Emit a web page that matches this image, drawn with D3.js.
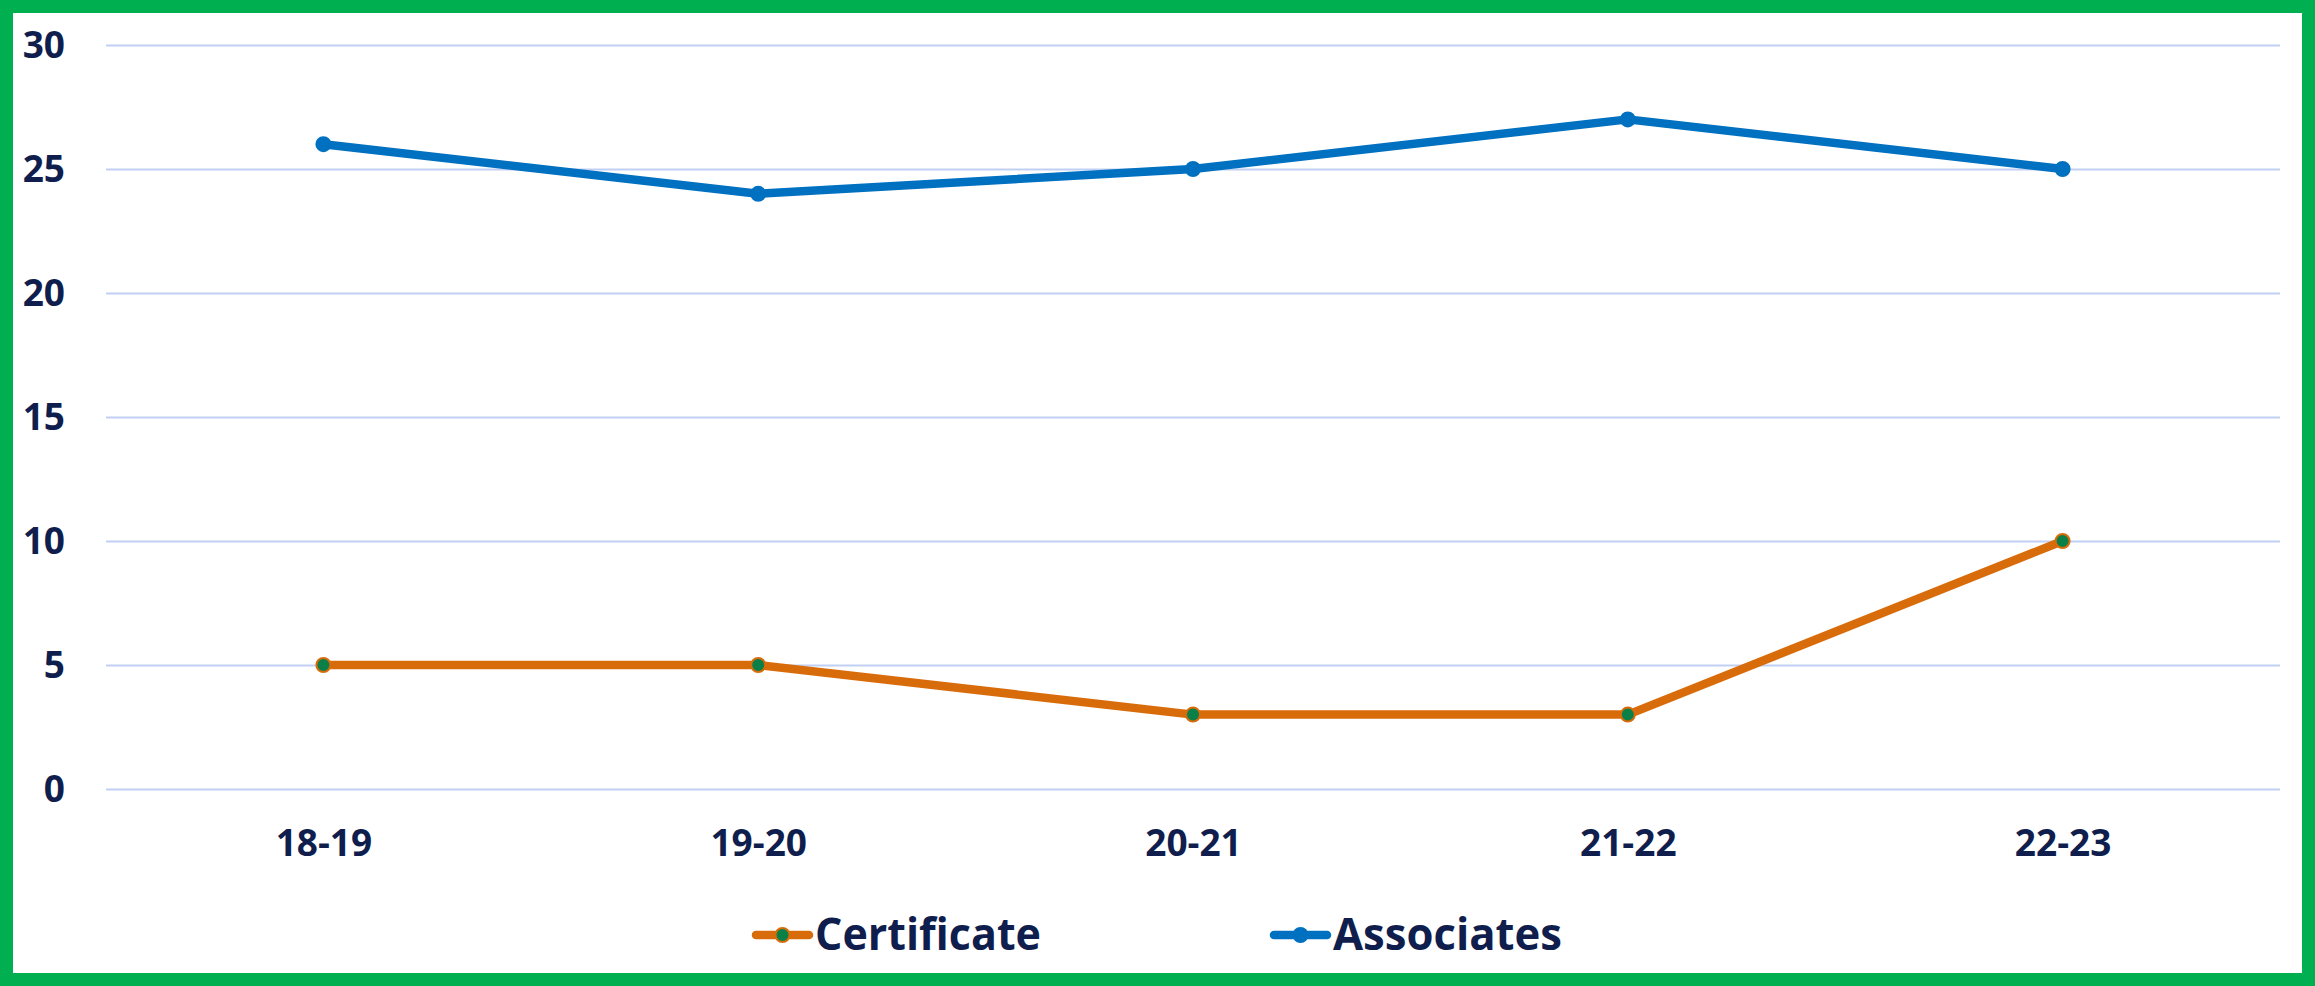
<!DOCTYPE html>
<html><head><meta charset="utf-8">
<script src="https://cdn.jsdelivr.net/npm/d3@7"></script>
<style>html,body{margin:0;padding:0;background:#fff;}svg{display:block;}</style>
</head><body>
<script>
const categories = ["18-19","19-20","20-21","21-22","22-23"];
const certificate = [5,5,3,3,10];
const associates = [26,24,25,27,25];
const yTicks = [0,5,10,15,20,25,30];
const seriesNames = ["Certificate","Associates"];

(function(){
const W = 2315, H = 986;
const svg = d3.select("body").append("svg").attr("width",W).attr("height",H);
svg.append("rect").attr("x",6.5).attr("y",6.5).attr("width",W-13).attr("height",H-13)
  .attr("fill","#fff").attr("stroke","#00b050").attr("stroke-width",13);

const pL = 106, pR = 2280, pT = 45, pB = 789;
const x = d3.scalePoint().domain(categories).range([pL,pR]).padding(0.5);
const y = d3.scaleLinear().domain([0,30]).range([pB,pT]);
const font = "'Open Sans', sans-serif";
const textCol = "#0f1e4d";

const yAxis = svg.append("g").attr("transform",`translate(${pL},0)`)
  .call(d3.axisLeft(y).tickValues(yTicks).tickSize(-(pR-pL)).tickPadding(41));
yAxis.select(".domain").remove();
yAxis.selectAll(".tick line").attr("stroke","#bfd0f4").attr("stroke-width",2);
yAxis.selectAll(".tick text").attr("fill",textCol).attr("font-family",font)
  .attr("font-weight",700).attr("font-size",37).attr("dy","0.35em");

const xAxis = svg.append("g").attr("transform",`translate(0,${pB})`)
  .call(d3.axisBottom(x).tickSize(0).tickPadding(0));
xAxis.select(".domain").remove();
xAxis.selectAll(".tick text").attr("fill",textCol).attr("font-family",font)
  .attr("font-weight",700).attr("font-size",37).attr("dy",null).attr("y",67);

const series = [
  {name:seriesNames[0], values:certificate, color:"#d96c0a", fill:"#0a7f47"},
  {name:seriesNames[1], values:associates, color:"#0070c0", fill:"#0070c0"}
];
const line = d3.line().x((d,i)=>x(categories[i])).y(d=>y(d));
series.forEach(s=>{
  svg.append("path").datum(s.values).attr("d",line).attr("fill","none")
    .attr("stroke",s.color).attr("stroke-width",8.5).attr("stroke-linejoin","round");
  svg.append("g").selectAll("circle").data(s.values).join("circle")
    .attr("cx",(d,i)=>x(categories[i])).attr("cy",d=>y(d)).attr("r",7)
    .attr("fill",s.fill).attr("stroke",s.color).attr("stroke-width",2);
});

const legX = [756, 1274];
const ly = 935;
series.forEach((s,i)=>{
  const g = svg.append("g").attr("transform",`translate(${legX[i]},${ly})`);
  g.append("line").attr("x1",0).attr("x2",53).attr("y1",0).attr("y2",0)
    .attr("stroke",s.color).attr("stroke-width",8.5).attr("stroke-linecap","round");
  g.append("circle").attr("cx",26.5).attr("cy",0).attr("r",7)
    .attr("fill",s.fill).attr("stroke",s.color).attr("stroke-width",2);
  g.append("text").attr("x",59).attr("y",15).attr("fill",textCol)
    .attr("font-family",font).attr("font-weight",700).attr("font-size",45)
    .attr("textLength", i===0 ? 226 : 229).attr("lengthAdjust","spacingAndGlyphs")
    .text(s.name);
});
})();
</script>
</body></html>
